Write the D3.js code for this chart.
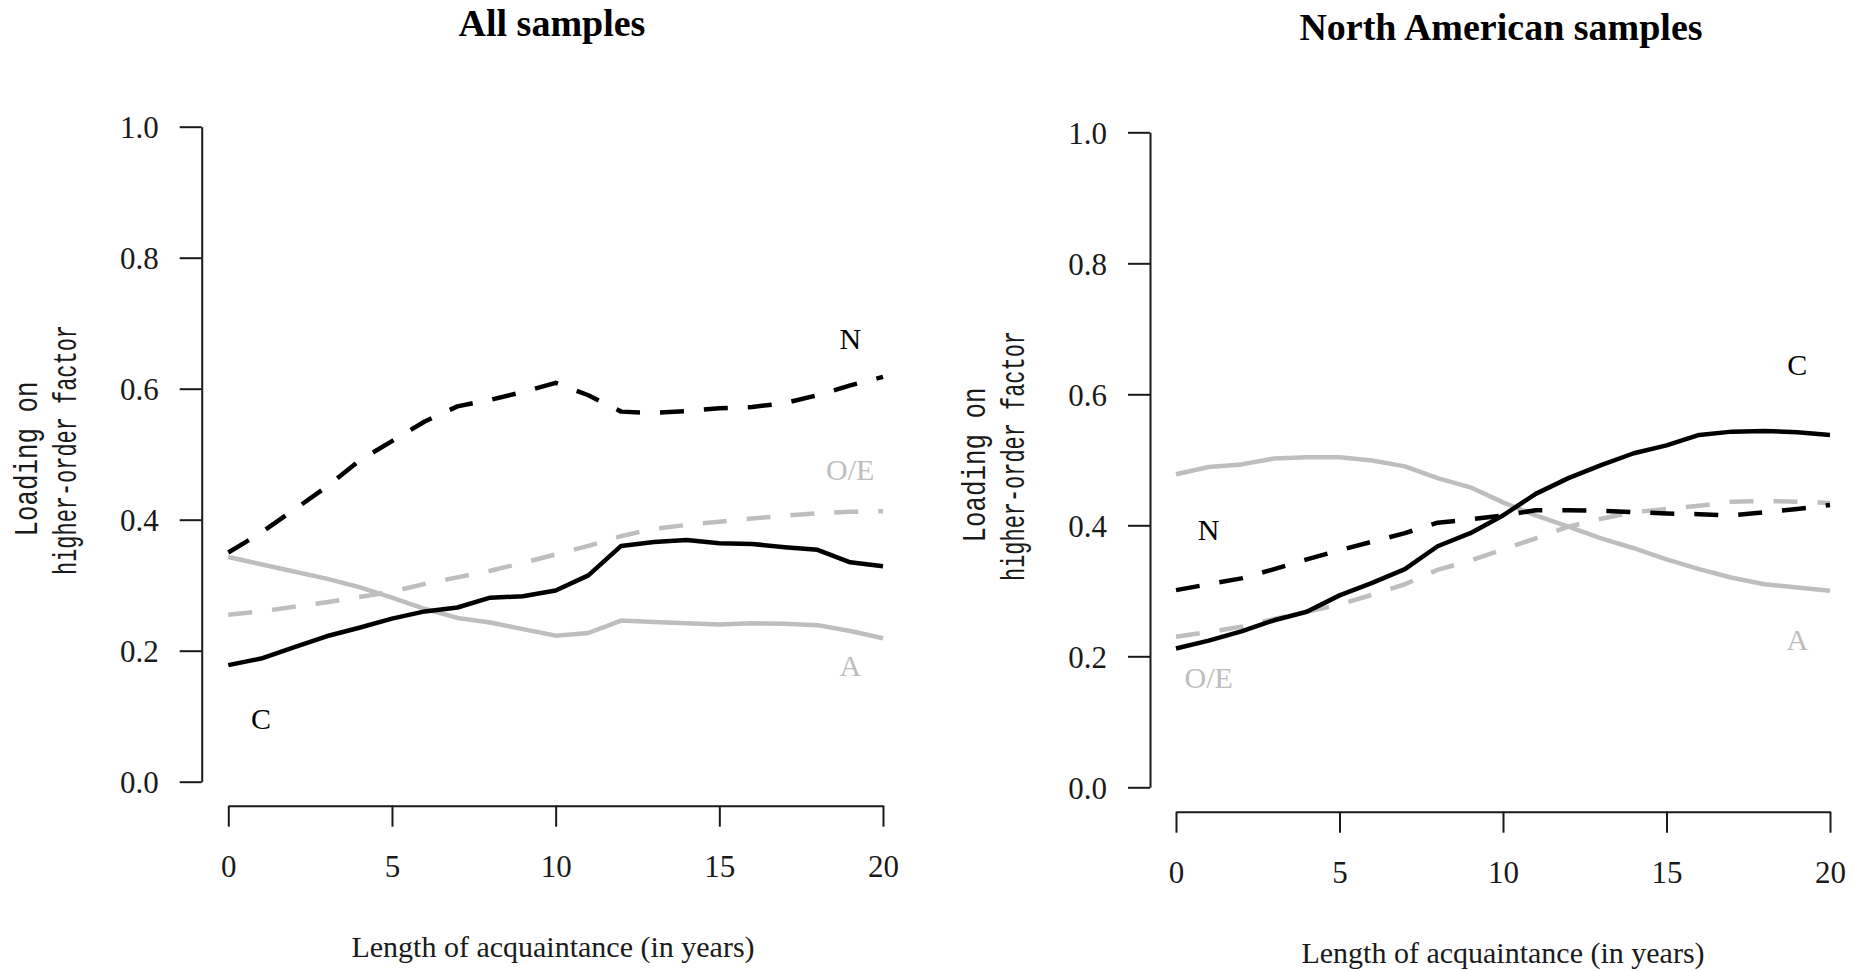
<!DOCTYPE html>
<html>
<head>
<meta charset="utf-8">
<script src="https://cdn.jsdelivr.net/npm/d3@7"></script>
<style>
  html, body { margin: 0; padding: 0; background: #fff; }
  svg { display: block; }
</style>
</head>
<body>
<svg id="chart" width="1854" height="971"></svg>
<script>
// ---------- data ----------
const years = [0,1,2,3,4,5,6,7,8,9,10,11,12,13,14,15,16,17,18,19,20];
const xTicks = [0, 5, 10, 15, 20];
const yTicks = [0.0, 0.2, 0.4, 0.6, 0.8, 1.0];

// All samples
const allN  = [0.350,0.380,0.415,0.450,0.490,0.520,0.550,0.573,0.583,0.595,0.609,0.590,0.565,0.563,0.566,0.570,0.572,0.578,0.590,0.605,0.618];
const allOE = [0.255,0.260,0.267,0.274,0.282,0.290,0.302,0.312,0.322,0.334,0.347,0.360,0.375,0.386,0.392,0.397,0.402,0.406,0.410,0.412,0.413];
const allA  = [0.343,0.332,0.321,0.310,0.297,0.281,0.264,0.250,0.243,0.233,0.223,0.227,0.246,0.244,0.242,0.240,0.242,0.241,0.239,0.230,0.219];
const allC  = [0.178,0.188,0.205,0.222,0.235,0.249,0.260,0.266,0.281,0.283,0.292,0.315,0.360,0.366,0.369,0.364,0.363,0.358,0.354,0.335,0.329];

// North American samples
const naN  = [0.301,0.310,0.319,0.333,0.348,0.362,0.375,0.388,0.404,0.409,0.415,0.423,0.423,0.422,0.420,0.418,0.417,0.415,0.420,0.425,0.431];
const naOE = [0.230,0.237,0.245,0.257,0.268,0.279,0.294,0.310,0.332,0.346,0.363,0.380,0.398,0.410,0.420,0.425,0.430,0.436,0.437,0.436,0.434];
const naA  = [0.478,0.489,0.493,0.502,0.504,0.504,0.499,0.490,0.472,0.458,0.435,0.415,0.398,0.380,0.365,0.348,0.333,0.320,0.310,0.305,0.300];
const naC  = [0.212,0.224,0.238,0.255,0.268,0.293,0.312,0.333,0.368,0.388,0.415,0.448,0.472,0.492,0.510,0.522,0.538,0.543,0.544,0.542,0.538];

// series label names and their positions in data units [x, y]
const allLabels = [
  {name: "N",   x: 19, y: 0.677, grey: false},
  {name: "O/E", x: 19, y: 0.476, grey: true},
  {name: "A",   x: 19, y: 0.178, grey: true},
  {name: "C",   x: 1,  y: 0.096, grey: false}
];
const naLabels = [
  {name: "C",   x: 19, y: 0.645, grey: false},
  {name: "N",   x: 1,  y: 0.394, grey: false},
  {name: "O/E", x: 1,  y: 0.167, grey: true},
  {name: "A",   x: 19, y: 0.226, grey: true}
];

const titles = ["All samples", "North American samples"];
const xTitle = "Length of acquaintance (in years)";
const yTitle1 = "Loading on";
const yTitle2 = "higher-order factor";

// ---------- drawing ----------
const svg = d3.select("#chart");
const GREY = "#bebebe";
const SERIF = "'Liberation Serif','Times New Roman',serif";
const MONO = "'Liberation Mono','Courier New',monospace";

function panel(cfg) {
  const x = d3.scaleLinear().domain([0, 20]).range([cfg.x0, cfg.x1]);
  const y = d3.scaleLinear().domain([0, 1]).range([cfg.y0, cfg.y1]);
  const g = svg.append("g");

  // title
  g.append("text")
    .attr("x", cfg.titleX).attr("y", cfg.titleY)
    .attr("text-anchor", "middle")
    .style("font-family", SERIF).style("font-weight", "bold")
    .style("font-size", "38px").attr("fill", "#000")
    .text(cfg.title);

  // y axis
  const ya = g.append("g")
    .attr("transform", `translate(${cfg.yAxisX},0)`)
    .call(d3.axisLeft(y).tickValues(yTicks).tickFormat(d3.format(".1f"))
      .tickSize(22).tickSizeOuter(0).tickPadding(21));
  ya.selectAll("path, line").attr("stroke", "#1a1a1a").attr("stroke-width", 2);
  ya.selectAll("text").style("font-family", SERIF).style("font-size", "31px")
    .attr("fill", "#1a1a1a").attr("dy", "0.36em");

  // x axis
  const xa = g.append("g")
    .attr("transform", `translate(0,${cfg.xAxisY})`)
    .call(d3.axisBottom(x).tickValues(xTicks).tickFormat(d3.format("d"))
      .tickSize(21).tickSizeOuter(0).tickPadding(28));
  xa.selectAll("path, line").attr("stroke", "#1a1a1a").attr("stroke-width", 2);
  xa.selectAll("text").style("font-family", SERIF).style("font-size", "31px")
    .attr("fill", "#1a1a1a");

  // axis titles
  g.append("text")
    .attr("x", cfg.xTitleX).attr("y", cfg.xTitleY)
    .attr("text-anchor", "middle")
    .style("font-family", SERIF).style("font-size", "30px").attr("fill", "#1a1a1a")
    .text(xTitle);

  [[yTitle1, cfg.yt1x, cfg.yt1y, 155], [yTitle2, cfg.yt2x, cfg.yt2y, 250]].forEach(([t, tx, ty, len]) => {
    g.append("text")
      .attr("transform", `translate(${tx},${ty}) rotate(-90)`)
      .attr("text-anchor", "middle")
      .attr("textLength", len).attr("lengthAdjust", "spacingAndGlyphs")
      .style("font-family", MONO).style("font-size", "33px").attr("fill", "#1a1a1a")
      .text(t);
  });

  // lines
  const line = d3.line().x((d, i) => x(years[i])).y(d => y(d)).curve(d3.curveLinear);
  cfg.series.forEach(s => {
    g.append("path")
      .datum(s.values)
      .attr("d", line)
      .attr("fill", "none")
      .attr("stroke", s.grey ? GREY : "#000")
      .attr("stroke-width", 4.5)
      .attr("stroke-linejoin", "round")
      .attr("stroke-dasharray", s.dashed ? "24,20" : null);
  });

  // series labels
  g.selectAll(".lab").data(cfg.labels).enter().append("text")
    .attr("x", d => x(d.x)).attr("y", d => y(d.y))
    .attr("text-anchor", "middle").attr("dy", "0.35em")
    .style("font-family", SERIF).style("font-size", "30px")
    .attr("fill", d => d.grey ? GREY : "#000")
    .text(d => d.name);
}

panel({
  x0: 228.3, x1: 883, y0: 781.7, y1: 126.7,
  yAxisX: 201.7, xAxisY: 805.7,
  title: titles[0], titleX: 552, titleY: 36,
  xTitleX: 553, xTitleY: 957,
  yt1x: 37, yt1y: 459, yt2x: 76, yt2y: 450,
  series: [
    {values: allN,  grey: false, dashed: true},
    {values: allOE, grey: true,  dashed: true},
    {values: allA,  grey: true,  dashed: false},
    {values: allC,  grey: false, dashed: false}
  ],
  labels: allLabels
});

panel({
  x0: 1176, x1: 1830, y0: 787.3, y1: 132.3,
  yAxisX: 1150, xAxisY: 811.7,
  title: titles[1], titleX: 1501, titleY: 40,
  xTitleX: 1503, xTitleY: 963,
  yt1x: 985, yt1y: 465, yt2x: 1024, yt2y: 456,
  series: [
    {values: naOE, grey: true,  dashed: true},
    {values: naA,  grey: true,  dashed: false},
    {values: naN,  grey: false, dashed: true},
    {values: naC,  grey: false, dashed: false}
  ],
  labels: naLabels
});
</script>
</body>
</html>
